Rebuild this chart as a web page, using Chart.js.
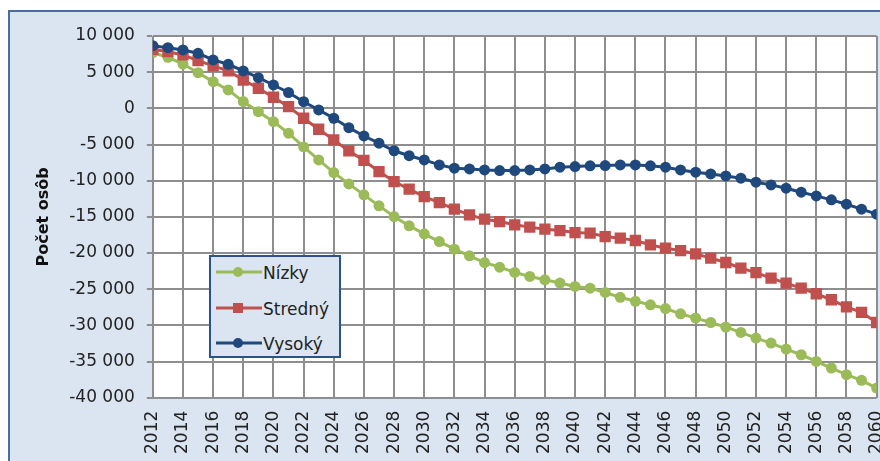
<!DOCTYPE html>
<html>
<head>
<meta charset="utf-8">
<script src="https://cdn.jsdelivr.net/npm/chart.js@4/dist/chart.umd.min.js"></script>
<style>
body { margin: 0; background: #fff; width: 880px; height: 461px; overflow: hidden; position: relative; }
#frame { position: absolute; left: 8px; top: 10px; width: 900px; height: 500px; background: #dbe5f1;
         border-left: 2px solid #4a6d9c; border-top: 2px solid #4a6d9c; }
#chart { position: absolute; left: 0; top: 0; }
#legend { position: absolute; left: 209px; top: 255px; width: 128px; height: 99px; background: #dbe5f1;
          border: 2px solid #2d5189; font: 17px "DejaVu Sans", sans-serif; color: #222; }
#legend svg, #legend span { position: absolute; }
#legend span { left: 52px; line-height: 20px; }
</style>
</head>
<body>
<div id="frame"></div>
<canvas id="chart" width="910" height="467"></canvas>
<div id="legend"></div>
<script>
// roky
const years = [2012, 2013, 2014, 2015, 2016, 2017, 2018, 2019, 2020, 2021,
    2022, 2023, 2024, 2025, 2026, 2027, 2028, 2029, 2030, 2031,
    2032, 2033, 2034, 2035, 2036, 2037, 2038, 2039, 2040, 2041,
    2042, 2043, 2044, 2045, 2046, 2047, 2048, 2049, 2050, 2051,
    2052, 2053, 2054, 2055, 2056, 2057, 2058, 2059, 2060];

// varianty prognózy
const nizky = [7690, 7060, 6130, 4930, 3690, 2540, 930, -460, -1840, -3440,
    -5330, -7130, -8880, -10440, -11960, -13480, -14960, -16240, -17350, -18410,
    -19460, -20390, -21310, -21950, -22680, -23240, -23700, -24150, -24620, -24850,
    -25450, -26120, -26670, -27150, -27670, -28400, -28990, -29600, -30230, -30970,
    -31750, -32440, -33270, -34060, -34980, -35890, -36820, -37600, -38660];

const stredny = [8160, 7830, 7380, 6590, 5860, 5170, 3920, 2780, 1530, 230,
    -1370, -2890, -4360, -5880, -7200, -8740, -10120, -11170, -12190, -13020,
    -13940, -14720, -15320, -15650, -16100, -16420, -16700, -16890, -17170, -17250,
    -17720, -17940, -18270, -18870, -19330, -19660, -20110, -20710, -21310, -22090,
    -22700, -23470, -24160, -24850, -25630, -26460, -27430, -28190, -29600];

const vysoky = [8660, 8380, 8070, 7610, 6690, 6090, 5170, 4240, 3230, 2190,
    920, -220, -1370, -2670, -3820, -4820, -5860, -6550, -7130, -7820,
    -8270, -8370, -8510, -8600, -8600, -8510, -8370, -8130, -8050, -7950,
    -7910, -7820, -7820, -7950, -8130, -8510, -8830, -9060, -9340, -9660,
    -10210, -10580, -11040, -11590, -12100, -12650, -13250, -13940, -14630];

const seriesNames = ['Nízky', 'Stredný', 'Vysoký'];
const seriesColors = ['#9bbb59', '#c0504d', '#1f497d'];
const seriesMarkers = ['circle', 'rect', 'circle'];

const FONT = 'DejaVu Sans';
const GRID = '#8e8e8e';

// predvolené hodnoty, aby osi vyzerali rovnako aj pri prekreslení
Chart.defaults.font.family = FONT;
Chart.defaults.color = '#222';
Chart.defaults.borderColor = GRID;
if (Chart.defaults.scale && Chart.defaults.scale.grid) {
    Chart.defaults.scale.grid.lineWidth = 2;
}

// 10000 -> "10 000"
function fmt(v) {
    const s = Math.abs(v).toString().replace(/\B(?=(\d{3})+(?!\d))/g, ' ');
    return (v < 0 ? '-' : '') + s;
}

function toPoints(values) {
    return values.map((v, i) => ({ x: years[i], y: v }));
}

// biele pozadie grafu
const plotBg = {
    id: 'plotBg',
    beforeDraw(chart) {
        const { ctx, chartArea: a } = chart;
        ctx.save();
        ctx.fillStyle = '#fff';
        ctx.fillRect(a.left, a.top, a.right - a.left, a.bottom - a.top);
        ctx.restore();
    }
};

function makeDataset(i, values, radius, order) {
    const color = seriesColors[i];
    return {
        label: seriesNames[i],
        data: toPoints(values),
        borderColor: color,
        backgroundColor: color,
        pointBackgroundColor: color,
        pointBorderColor: color,
        pointBorderWidth: 0,
        pointStyle: seriesMarkers[i],
        pointRadius: radius,
        borderWidth: 3,
        tension: 0,
        order
    };
}

const chart = new Chart(document.getElementById('chart'), {
    type: 'line',
    data: {
        datasets: [
            makeDataset(0, nizky, 5.5, 3),
            makeDataset(1, stredny, 8, 2),
            makeDataset(2, vysoky, 5.5, 1)
        ]
    },
    options: {
        responsive: false,
        animation: false,
        events: [],
        layout: { padding: { left: 30, top: 36, right: 0, bottom: 0 } },
        plugins: { legend: { display: false }, tooltip: { enabled: false } },
        scales: {
            x: {
                type: 'linear',
                min: 2012,
                max: 2060,
                grid: { color: GRID, lineWidth: 2, drawTicks: false },
                ticks: {
                    stepSize: 2,
                    autoSkip: false,
                    minRotation: 90,
                    maxRotation: 90,
                    padding: 13,
                    color: '#222',
                    font: { family: FONT, size: 17 },
                    callback: v => String(v)
                }
            },
            y: {
                min: -40000,
                max: 10000,
                grid: { color: GRID, lineWidth: 2, tickLength: 6 },
                ticks: {
                    stepSize: 5000,
                    padding: 12,
                    color: '#222',
                    font: { family: FONT, size: 17 },
                    callback: v => fmt(v)
                },
                title: {
                    display: true,
                    text: 'Počet osôb',
                    color: '#111',
                    font: { family: FONT, size: 16, weight: 'bold' },
                    padding: { top: 4, bottom: 4 }
                }
            }
        }
    },
    plugins: [plotBg]
});

// ešte raz prekresliť, keď je stránka hotová
setTimeout(() => chart.update('none'), 30);
if (document.fonts && document.fonts.ready) {
    document.fonts.ready.then(() => chart.update('none'));
}

// legenda (HTML) podľa sérií
const legend = document.getElementById('legend');
seriesNames.forEach((name, i) => {
    const cy = 15 + i * 35.5;
    const c = seriesColors[i];
    const marker = seriesMarkers[i] === 'rect'
        ? '<rect x="17" y="1" width="10" height="10" fill="' + c + '"/>'
        : '<circle cx="22" cy="6" r="5" fill="' + c + '"/>';
    legend.insertAdjacentHTML('beforeend',
        '<svg width="46" height="12" style="left:5px;top:' + (cy - 6) + 'px">' +
        '<line x1="0" y1="6" x2="46" y2="6" stroke="' + c + '" stroke-width="3"/>' + marker + '</svg>' +
        '<span style="top:' + (cy - 9) + 'px">' + name + '</span>');
});
</script>
</body>
</html>
